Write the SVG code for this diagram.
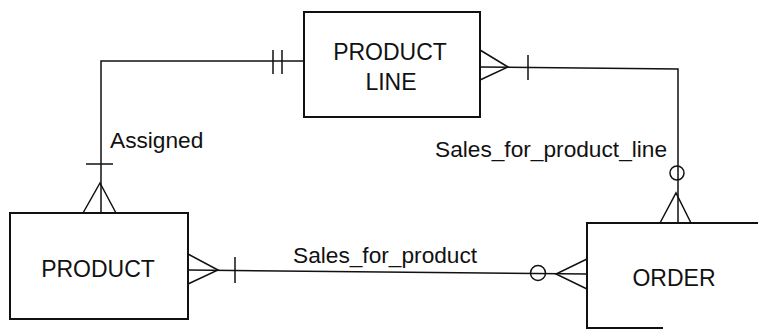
<svg xmlns="http://www.w3.org/2000/svg" width="758" height="330" viewBox="0 0 758 330">
<style>
.box{fill:none;stroke:#111;stroke-width:2}
.ln{fill:none;stroke:#111;stroke-width:1.5}
.t{font-family:"Liberation Sans",Arial,sans-serif;font-size:23px;fill:#111}
.lbl{font-family:"Liberation Sans",Arial,sans-serif;font-size:22.7px;fill:#111}
</style>
<rect width="758" height="330" fill="#fff"/>
<g id="product-line">
<rect class="box" x="304" y="12" width="176" height="105"/>
<text class="t" x="390" y="60" text-anchor="middle">PRODUCT</text>
<text class="t" x="391" y="90" text-anchor="middle">LINE</text>
</g>
<g id="product">
<rect class="box" x="10" y="213" width="178" height="106"/>
<text class="t" x="98" y="277" text-anchor="middle">PRODUCT</text>
</g>
<g id="order">
<path class="box" d="M758 223 H587 V328 H663"/>
<text class="t" x="674" y="286" text-anchor="middle">ORDER</text>
</g>
<g id="connectors">
<!-- Assigned: PRODUCT LINE (one and only one) to PRODUCT (one or many) -->
<path class="ln" d="M304 61 H101 V213"/>
<path class="ln" d="M273 50 V74 M282 50 V74"/>
<path class="ln" d="M86 164 H113"/>
<path class="ln" d="M83 213 L100 183 L116 213"/>
<text class="lbl" x="110" y="148">Assigned</text>
<!-- Sales_for_product_line: PRODUCT LINE (many) to ORDER (zero or many) -->
<path class="ln" d="M480 67 L678 69 V223"/>
<path class="ln" d="M480 50 L508 67 L480 80"/>
<path class="ln" d="M528 55 V80"/>
<circle class="ln" cx="677" cy="173" r="7"/>
<path class="ln" d="M660 223 L676 193 L691 223"/>
<text class="lbl" x="435" y="157">Sales_for_product_line</text>
<!-- Sales_for_product: PRODUCT (many) to ORDER (zero or many) -->
<path class="ln" d="M188 270 L587 274"/>
<path class="ln" d="M188 254 L218 270 L188 284"/>
<path class="ln" d="M235 257 V283"/>
<circle class="ln" cx="538" cy="273" r="7.5"/>
<path class="ln" d="M587 259 L556 274 L587 289"/>
<text class="lbl" x="293" y="263">Sales_for_product</text>
</g>
</svg>
